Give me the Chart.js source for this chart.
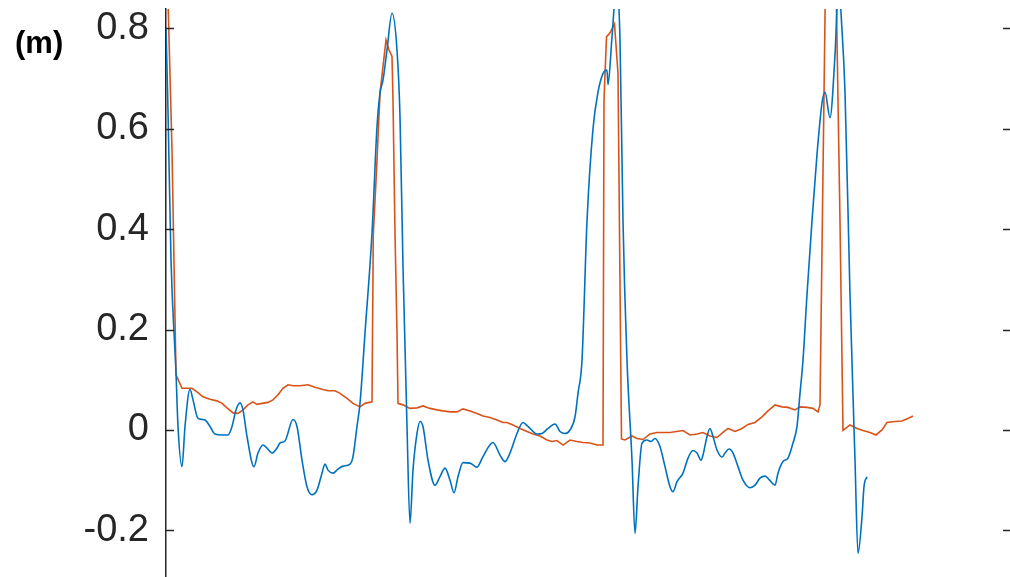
<!DOCTYPE html>
<html>
<head>
<meta charset="utf-8">
<script src="https://cdn.jsdelivr.net/npm/chart.js@4.4.1/dist/chart.umd.min.js"></script>
<style>
  html, body { margin: 0; padding: 0; background: #fff; }
  #wrap { position: relative; width: 1010px; height: 577px; }
  #panel { position: absolute; left: 15px; top: 27px; font: bold 31px "Liberation Sans", Arial, sans-serif; color: #000; line-height: 1; }
</style>
</head>
<body>
<div id="wrap">
  <canvas id="chart" width="1010" height="577"></canvas>
  <div id="panel">(m)</div>
</div>
<script>
// samples along the trace (same time units for both series)
const blueT = [0,2,5,10,12,16,19,24,27,32,36,39,44,49,56,62,66,70,74,77,81,88,92,97,101,106,111,114,119,127,131,136,141,146,151,156,159,162,167,172,177,184,187,191,194,199,206,211,214,217,221,226,231,234,237,241,244,247,251,254,257,262,269,274,279,284,288,292,297,304,311,317,327,334,339,344,351,357,362,371,376,382,389,394,399,404,409,412,416,421,427,432,437,441,442,446,450.5,454,457,461,466,469,472,476,481,485,489,494,499,504,507,511,517,522,527,531,535,537,541,544,547,551,556,559,563,567,572,577,584,589,594,599,604,609,612,617,622,627,631,634,637,641,646,651,656,659,664,669,672.5,676,679,684,689,692,696,698,701];
const blueV = [0.801,0.637,0.339,0.114,0.007,-0.073,0.007,0.081,0.060,0.023,0.021,0.020,0.007,-0.008,-0.010,-0.010,0.007,0.040,0.054,0.040,-0.013,-0.073,-0.046,-0.030,-0.036,-0.046,-0.036,-0.026,-0.022,0.021,0.007,-0.060,-0.113,-0.129,-0.120,-0.086,-0.068,-0.080,-0.086,-0.078,-0.072,-0.068,-0.053,0.007,0.053,0.193,0.392,0.604,0.671,0.697,0.757,0.830,0.757,0.624,0.325,0.007,-0.186,-0.080,-0.007,0.017,0.007,-0.060,-0.110,-0.093,-0.076,-0.100,-0.125,-0.093,-0.065,-0.066,-0.074,-0.053,-0.025,-0.050,-0.063,-0.046,-0.007,0.015,0.007,-0.008,-0.007,0.003,0.012,-0.003,-0.007,0.000,0.026,0.073,0.139,0.416,0.600,0.673,0.710,0.717,0.688,0.783,0.886,0.777,0.416,0.139,-0.060,-0.206,-0.113,-0.026,-0.020,-0.023,-0.017,-0.033,-0.073,-0.113,-0.123,-0.103,-0.086,-0.056,-0.041,-0.046,-0.060,-0.050,-0.013,0.003,-0.013,-0.040,-0.054,-0.046,-0.038,-0.046,-0.073,-0.100,-0.115,-0.110,-0.096,-0.092,-0.101,-0.110,-0.086,-0.063,-0.056,-0.026,0.007,0.073,0.139,0.270,0.417,0.549,0.651,0.673,0.622,0.747,0.886,0.797,0.673,0.270,-0.060,-0.246,-0.173,-0.113,-0.093];

const orangeT = [2,6,10,16,21,26,31,37,44,51,56,61,67,72,77,82,87,91,96,102,107,112,117,122,127,134,142,149,156,162,169,174,181,187,194,199,206,207.3,210.7,214,217,220,223,226,227,229,231,232,237,244,251,257,264,271,277,284,291,297,304,311,317,324,331,337,341,347,354,361,367,374,381,386,391,397,404,411,417,424,431,437,438,440.5,444,448.5,452,455.5,459,466,471,477,484,491,497,504,517,524,531,537,544,551,557,562,569,576,582,589,596,602,609,616,622,629,634,641,647,652,654,659.5,670,674,677,684,691,697,704,710,716,721,729,736,742,747];
const orangeV = [0.857,0.558,0.110,0.083,0.083,0.083,0.076,0.066,0.061,0.058,0.053,0.044,0.034,0.033,0.040,0.050,0.056,0.051,0.053,0.055,0.060,0.070,0.083,0.090,0.088,0.088,0.090,0.085,0.081,0.078,0.078,0.073,0.063,0.053,0.046,0.053,0.056,0.390,0.524,0.671,0.724,0.777,0.757,0.744,0.657,0.392,0.193,0.053,0.050,0.043,0.044,0.048,0.043,0.040,0.038,0.036,0.036,0.042,0.038,0.033,0.028,0.025,0.020,0.015,0.015,0.010,0.003,-0.003,-0.008,-0.012,-0.020,-0.023,-0.021,-0.030,-0.020,-0.023,-0.025,-0.026,-0.030,-0.030,0.657,0.783,0.791,0.809,0.710,-0.018,-0.020,-0.012,-0.017,-0.019,-0.008,-0.005,-0.005,-0.005,-0.001,-0.010,-0.008,-0.005,-0.012,-0.015,-0.005,0.003,-0.003,0.003,0.011,0.015,0.026,0.038,0.050,0.046,0.045,0.040,0.046,0.045,0.043,0.036,0.050,0.900,0.900,0.416,-0.001,0.010,0.003,-0.001,-0.005,-0.010,0.000,0.015,0.017,0.018,0.023,0.028];

const yTicks = [-0.2, 0, 0.2, 0.4, 0.6, 0.8];
const yMin = -0.2929, yMax = 0.8386;
const tMin = 0, tMax = 844;

const toPoints = (ts, vs) => {
  const n = Math.min(ts.length, vs.length);
  const pts = [];
  for (let i = 0; i < n; i++) pts.push({ x: ts[i], y: vs[i] });
  return pts;
};

// matlab style ticks pointing into the box, left and right
const insideTicks = {
  id: 'insideTicks',
  afterDraw(chart) {
    const { ctx, chartArea, scales } = chart;
    ctx.save();
    ctx.strokeStyle = '#262626';
    ctx.lineWidth = 1.3;
    yTicks.forEach(v => {
      const py = Math.round(scales.y.getPixelForValue(v)) + 0.5;
      ctx.beginPath();
      ctx.moveTo(chartArea.left, py);
      ctx.lineTo(chartArea.left + 8, py);
      ctx.moveTo(chartArea.right - 7, py);
      ctx.lineTo(chartArea.right, py);
      ctx.stroke();
    });
    ctx.restore();
  }
};

const chart = new Chart('chart', {
  type: 'line',
  data: {
    datasets: [{
      data: toPoints(blueT, blueV),
      borderColor: '#0072BD',
      borderWidth: 1.6,
      pointRadius: 0,
      cubicInterpolationMode: 'monotone'
    }, {
      data: toPoints(orangeT, orangeV),
      borderColor: '#D95319',
      borderWidth: 1.6,
      pointRadius: 0,
      tension: 0
    }]
  },
  options: {
    responsive: false,
    animation: false,
    events: [],
    layout: { padding: { top: 9, right: 0, bottom: 0, left: 0 } },
    plugins: { legend: { display: false }, tooltip: { enabled: false } },
    scales: {
      x: { type: 'linear', min: tMin, max: tMax, display: false },
      y: {
        min: yMin,
        max: yMax,
        afterFit: s => {
          s.width = 166;
          // labels near the ends must not shrink the plot box
          s.paddingTop = 0;
          s.paddingBottom = 0;
        },
        afterBuildTicks: s => { s.ticks = yTicks.map(v => ({ value: v })); },
        grid: { display: true, drawOnChartArea: false, drawTicks: false },
        border: { display: true, color: '#262626', width: 1.5 },
        ticks: {
          padding: 17,
          color: '#262626',
          font: { family: '"Liberation Sans", Arial, sans-serif', size: 38 },
          callback: v => String(Math.round(v * 10) / 10)
        }
      }
    }
  },
  plugins: [insideTicks]
});
</script>
</body>
</html>
